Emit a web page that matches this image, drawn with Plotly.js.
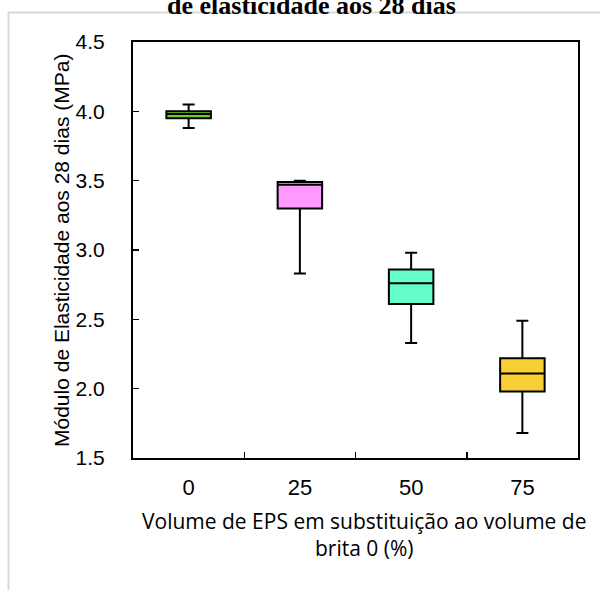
<!DOCTYPE html>
<html>
<head>
<meta charset="utf-8">
<script src="https://cdn.plot.ly/plotly-3.0.1.min.js"></script>
<style>html,body{margin:0;padding:0;background:#fff;}#chart{width:600px;height:590px;}</style>
</head>
<body>
<div id="chart"></div>
<script>
// Data
const categories = ['0', '25', '50', '75'];
const lowerWhisker = [3.88, 2.83, 2.33, 1.68];
const q1Values = [3.95, 3.30, 2.61, 1.98];
const medianValues = [3.98, 3.47, 2.76, 2.11];
const q3Values = [4.00, 3.49, 2.86, 2.22];
const upperWhisker = [4.05, 3.50, 2.98, 2.49];
const boxColors = ['#70D020', '#FF99FF', '#66FFCC', '#F8CF35'];
const titleText = 'de elasticidade aos 28 dias';
const xTitle = 'Volume de EPS em substituição ao volume de<br>brita 0 (%)';
const yTitle = 'Módulo de Elasticidade aos 28 dias (MPa)';

const traces = categories.map((c, i) => ({
  type: 'box',
  x: [c],
  q1: [q1Values[i]],
  median: [medianValues[i]],
  q3: [q3Values[i]],
  lowerfence: [lowerWhisker[i]],
  upperfence: [upperWhisker[i]],
  fillcolor: boxColors[i],
  line: {color: '#000000', width: 2},
  width: 0.4,
  whiskerwidth: 0.27,
  boxpoints: false,
  showlegend: false,
  hoverinfo: 'skip'
}));

const L = 133, R = 578, T = 42, B = 458, W = 600, H = 590;
const pw = R - L, ph = B - T;
const px = v => (v - L) / pw;
const py = v => (B - v) / ph;

const layout = {
  width: W, height: H,
  margin: {l: L, r: W - R, t: T, b: H - B, pad: 0},
  paper_bgcolor: '#ffffff',
  plot_bgcolor: '#ffffff',
  boxmode: 'overlay',
  showlegend: false,
  font: {family: 'Liberation Sans, Arial, sans-serif', color: '#000000'},
  xaxis: {
    type: 'category',
    categoryorder: 'array',
    categoryarray: categories,
    range: [-0.5, 3.5],
    showline: true, linecolor: '#000000', linewidth: 2, mirror: true,
    ticks: 'inside', ticklen: 6, tickwidth: 1.5, tickcolor: '#000000',
    tickson: 'boundaries',
    showgrid: false, zeroline: false,
    tickfont: {size: 22, family: 'Liberation Sans, Arial, sans-serif'},
    ticklabelstandoff: 9
  },
  yaxis: {
    range: [1.5, 4.5],
    dtick: 0.5,
    tickformat: '.1f',
    showline: true, linecolor: '#000000', linewidth: 2, mirror: true,
    ticks: 'inside', ticklen: 6, tickwidth: 1.5, tickcolor: '#000000',
    showgrid: false, zeroline: false,
    tickfont: {size: 21, family: 'Liberation Sans, Arial, sans-serif'},
    ticklabelstandoff: 22
  },
  annotations: [{
    text: '<b>' + titleText + '</b>',
    xref: 'paper', yref: 'paper',
    x: px(311), y: py(22),
    xanchor: 'center', yanchor: 'bottom',
    showarrow: false,
    font: {family: 'Liberation Serif, Times New Roman, serif', size: 26, color: '#000'}
  }, {
    text: xTitle,
    xref: 'paper', yref: 'paper',
    x: px(364), y: py(534),
    xanchor: 'center', yanchor: 'middle',
    showarrow: false,
    font: {family: 'Open Sans, sans-serif', size: 21, color: '#000'}
  }, {
    text: yTitle,
    textangle: -90,
    xref: 'paper', yref: 'paper',
    x: px(61), y: py(251),
    xanchor: 'center', yanchor: 'middle',
    showarrow: false,
    font: {family: 'Liberation Sans, Arial, sans-serif', size: 21, color: '#000'}
  }],
  shapes: [{
    type: 'path',
    xref: 'paper', yref: 'paper',
    path: `M ${px(8.5)} ${py(600)} L ${px(8.5)} ${py(12.5)} L ${px(610)} ${py(12.5)}`,
    line: {color: '#d9d9d9', width: 2},
    layer: 'below'
  }]
};

Plotly.newPlot('chart', traces, layout, {displayModeBar: false, staticPlot: true});
</script>
</body>
</html>
